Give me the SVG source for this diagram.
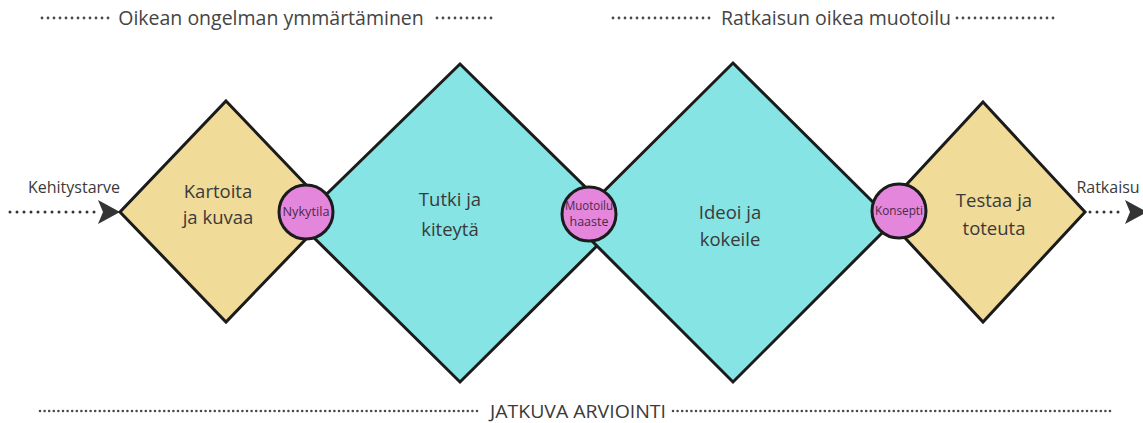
<svg xmlns="http://www.w3.org/2000/svg" width="1143" height="423" viewBox="0 0 1143 423">
<defs>
<style>
.dia{stroke:#1b1b1b;stroke-width:3;stroke-linejoin:miter}
.y{fill:#F0DB98}
.c{fill:#86E4E4}
.ci{fill:#E386DC;stroke:#1b1b1b;stroke-width:3}
.t{font-family:"Open Sans","Noto Sans",sans-serif;fill:#3a3a3a;text-anchor:middle}
.big{font-size:18.5px}
.sm{font-size:12.5px;fill:#4a2a4a}
.lab{font-size:16px}
.hd{font-size:19.5px;fill:#444}
.dot{stroke:#4a4a4a;stroke-width:2.8;stroke-linecap:round;stroke-dasharray:0 6;fill:none}
.dotb{stroke:#4a4a4a;stroke-width:2.6;stroke-linecap:round;stroke-dasharray:0 4.6;fill:none}
.arr{stroke:#333;stroke-width:3;stroke-linecap:round;stroke-dasharray:0 7;fill:none}
</style>
<marker id="ah" viewBox="0 0 22 24" refX="21" refY="12" markerWidth="22" markerHeight="24" markerUnits="userSpaceOnUse" orient="auto">
<path d="M0,0 L22,12 L0,24 L5,12 Z" fill="#333"/>
</marker>
</defs>
<g id="headers">
<path class="dot" d="M42,18 H110 M437,18 H497 M613,18 H710 M957,18 H1055"/>
<path class="dotb" d="M40,411 H480 M673,411 H1113"/>
<text class="t hd" x="271" y="25">Oikean ongelman ymmärtäminen</text>
<text class="t hd" x="836" y="25">Ratkaisun oikea muotoilu</text>
<text class="t" x="578" y="418" font-size="18" textLength="176" lengthAdjust="spacingAndGlyphs">JATKUVA ARVIOINTI</text>
</g>
<g id="connectors">
<path class="arr" d="M10,212 H96"/>
<path d="M98,212 H119" stroke="none" fill="none" marker-end="url(#ah)"/>
<path class="arr" d="M1090,212 H1123"/>
<path d="M1125,212 H1146" stroke="none" fill="none" marker-end="url(#ah)"/>
</g>
<g id="n-kartoita">
<path class="dia y" d="M226,101 L332,212 L226,322 L120,212 Z"/>
<text class="t big" x="218" y="198">Kartoita</text>
<text class="t big" x="218" y="224">ja kuvaa</text>
</g>
<g id="n-tutki">
<path class="dia c" d="M460,64 L621,222 L460,382 L298,222 Z"/>
<text class="t big" x="450" y="206">Tutki ja</text>
<text class="t big" x="450" y="236">kiteytä</text>
</g>
<g id="n-ideoi">
<path class="dia c" d="M733,63 L893,222 L733,382 L573,222 Z"/>
<text class="t big" x="730" y="219">Ideoi ja</text>
<text class="t big" x="730" y="246">kokeile</text>
</g>
<g id="n-testaa">
<path class="dia y" d="M983,102 L1085,212 L983,322 L881,212 Z"/>
<text class="t big" x="994" y="207">Testaa ja</text>
<text class="t big" x="994" y="235">toteuta</text>
</g>
<g id="n-kehitystarve">
<text class="t lab" x="74" y="193">Kehitystarve</text>
</g>
<g id="n-ratkaisu">
<text class="t lab" x="1108" y="193">Ratkaisu</text>
</g>
<g id="n-nykytila">
<circle class="ci" cx="306" cy="212" r="27"/>
<text class="t sm" x="306" y="216" textLength="47" lengthAdjust="spacingAndGlyphs">Nykytila</text>
</g>
<g id="n-muotoilu">
<circle class="ci" cx="589" cy="214" r="27"/>
<text class="t sm" x="589" y="210" textLength="48" lengthAdjust="spacingAndGlyphs">Muotoilu</text>
<text class="t sm" x="589" y="226">haaste</text>
</g>
<g id="n-konsepti">
<circle class="ci" cx="899" cy="211" r="27"/>
<text class="t sm" x="899" y="215" textLength="48" lengthAdjust="spacingAndGlyphs">Konsepti</text>
</g>
</svg>
